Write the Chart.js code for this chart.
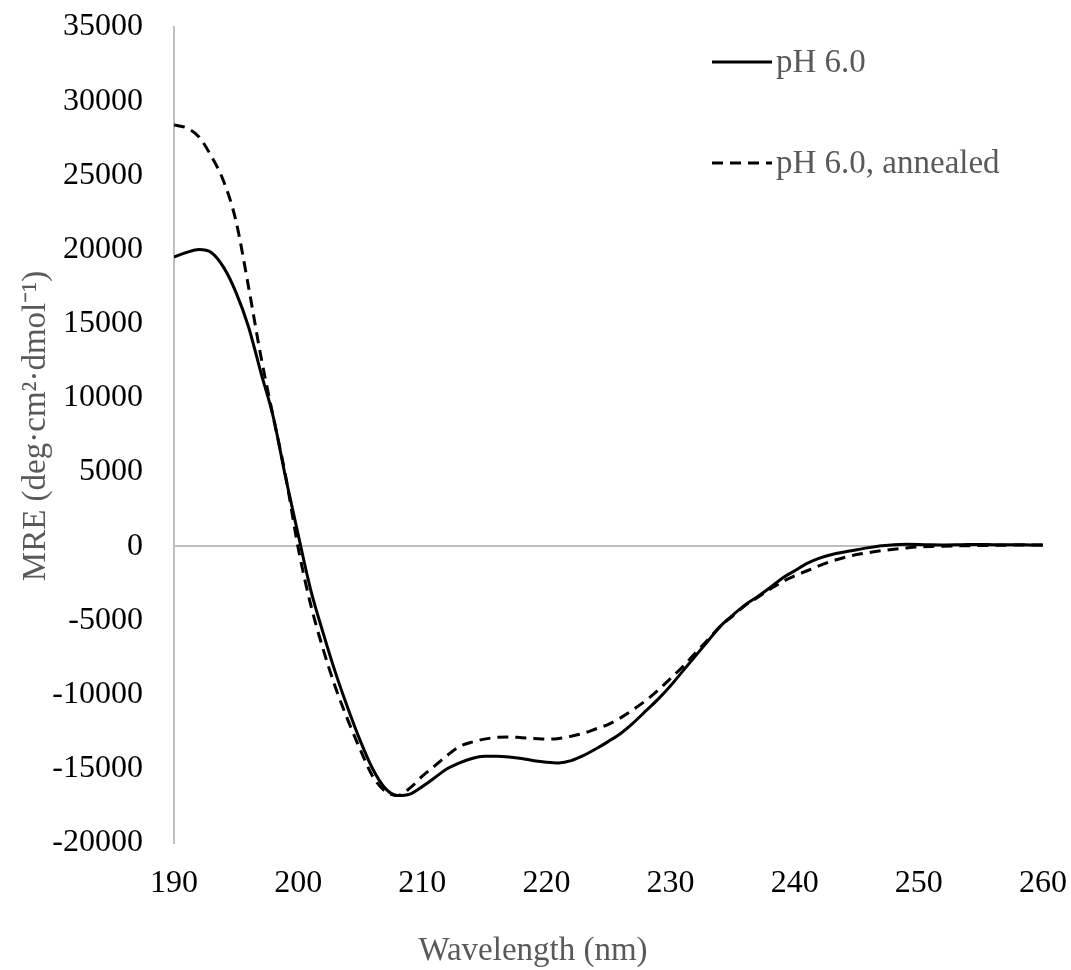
<!DOCTYPE html>
<html>
<head>
<meta charset="utf-8">
<script src="https://cdn.jsdelivr.net/npm/chart.js@4/dist/chart.umd.min.js"></script>
<style>
	html, body { margin: 0; padding: 0; background: #fff; }
	#wrap { width: 1071px; height: 970px; }
</style>
</head>
<body>
<div id="wrap"><canvas id="chart_cd" width="1071" height="970"></canvas></div>
<script>
var wavelengths = [190, 191, 192, 193, 194, 195, 196, 197, 198, 199,
	200, 201, 202, 203, 204, 205, 206, 207, 208, 209,
	210, 211, 212, 213, 214, 215, 216, 217, 218, 219,
	220, 221, 222, 223, 224, 225, 226, 227, 228, 229,
	230, 231, 232, 233, 234, 235, 236, 237, 238, 239,
	240, 241, 242, 243, 244, 245, 246, 247, 248, 249,
	250, 251, 252, 253, 254, 255, 256, 257, 258, 259, 260];

var mre_ph6 = [19500, 19800, 20000, 19800, 18800, 17100, 14800, 11700, 8700, 4600,
	800, -2900, -5800, -8500, -10900, -13100, -15000, -16300, -16800, -16700,
	-16200, -15600, -15000, -14600, -14300, -14150, -14150, -14200, -14300, -14450,
	-14550, -14600, -14450, -14100, -13650, -13150, -12600, -11900, -11100, -10300,
	-9400, -8400, -7400, -6400, -5400, -4650, -3950, -3400, -2800, -2150,
	-1650, -1150, -800, -550, -380, -230, -90, 30, 110, 130,
	120, 100, 90, 100, 120, 120, 110, 110, 100, 90, 80];

var mre_ph6_annealed = [28400, 28200, 27600, 26300, 24600, 21900, 17500, 12800, 8700, 4700,
	-100, -3900, -6900, -9500, -11700, -13700, -15500, -16500, -16800, -16300,
	-15500, -14800, -14100, -13500, -13200, -13000, -12880, -12850, -12900, -12950,
	-13000, -12950, -12800, -12600, -12300, -12000, -11550, -11000, -10400, -9700,
	-8900, -8100, -7200, -6300, -5400, -4700, -4000, -3450, -2900, -2400,
	-2000, -1650, -1300, -1000, -760, -560, -420, -300, -200, -110,
	-40, -10, 0, 20, 40, 50, 60, 70, 80, 80, 80];

var xTicks = [190, 200, 210, 220, 230, 240, 250, 260];

var xTitle = 'Wavelength (nm)';
var yTitle = 'MRE (deg·cm²·dmol⁻¹)';

function toPoints(xs, ys){
	var pts = [];
	for(var i = 0; i < xs.length; i++){
		pts.push({x: xs[i], y: ys[i]});
	}
	return pts;
}

var serif = "'Liberation Serif', 'Times New Roman', serif";

// keep the plot box where the original has it
function noOverflow(axis){
	axis.paddingTop = 0;
	axis.paddingBottom = 0;
	axis.paddingLeft = 0;
	axis.paddingRight = 0;
}

// legend (two stacked rows, upper right) and the axis titles, placed like the original
var extras = {
	id: 'extras',
	afterDraw: function(chart){
		var ctx = chart.ctx;
		var rows = [62, 163];
		ctx.save();
		ctx.font = '33px ' + serif;
		ctx.textBaseline = 'middle';
		ctx.textAlign = 'left';
		chart.data.datasets.forEach(function(ds, i){
			var y = rows[i];
			ctx.beginPath();
			ctx.lineWidth = ds.borderWidth;
			ctx.strokeStyle = ds.borderColor;
			ctx.setLineDash(ds.borderDash || []);
			ctx.moveTo(712, y);
			ctx.lineTo(772, y);
			ctx.stroke();
			ctx.setLineDash([]);
			ctx.fillStyle = '#595959';
			ctx.fillText(ds.label, 776, y + 1);
		});

		ctx.textAlign = 'center';
		ctx.textBaseline = 'alphabetic';
		ctx.fillText(xTitle, 533, 960);

		ctx.translate(45, 426);
		ctx.rotate(-Math.PI / 2);
		ctx.fillText(yTitle, 0, 0);
		ctx.restore();
	}
};

var ctx_cd = document.getElementById("chart_cd").getContext('2d');

var chart_cd = new Chart(ctx_cd, {
	type: 'line',
	data: {
		datasets: [
		{
			label: 'pH 6.0',
			borderColor: '#000000',
			borderWidth: 3,
			data: toPoints(wavelengths, mre_ph6),
			fill: false,
			pointRadius: 0,
			cubicInterpolationMode: 'monotone',
		},
		{
			label: 'pH 6.0, annealed',
			borderColor: '#000000',
			borderWidth: 3,
			borderDash: [11, 7],
			data: toPoints(wavelengths, mre_ph6_annealed),
			fill: false,
			pointRadius: 0,
			cubicInterpolationMode: 'monotone',
		}]
	},
	options: {
		responsive: false,
		animation: false,
		layout: { padding: { top: 27, right: 28, bottom: 0, left: 0 } },
		plugins: {
			legend: { display: false },
			tooltip: { enabled: false }
		},
		scales: {
			x: {
				type: 'linear',
				min: 190,
				max: 260,
				afterBuildTicks: function(axis){
					axis.ticks = xTicks.map(function(v){ return {value: v}; });
				},
				afterFit: function(axis){ axis.height = 127; noOverflow(axis); },
				grid: { display: false, drawTicks: false },
				border: { display: false },
				ticks: {
					color: '#000000',
					padding: 21,
					maxRotation: 0,
					callback: function(v){ return String(v); },
					font: { family: serif, size: 32 }
				}
			},
			y: {
				min: -20000,
				max: 35000,
				afterFit: function(axis){ axis.width = 174; noOverflow(axis); },
				ticks: {
					stepSize: 5000,
					color: '#000000',
					padding: 31,
					callback: function(v){ return String(v); },
					font: { family: serif, size: 32 }
				},
				grid: {
					drawTicks: false,
					lineWidth: 2,
					color: function(c){
						return c.tick && c.tick.value === 0 ? '#bfbfbf' : 'rgba(0,0,0,0)';
					}
				},
				border: { display: true, color: '#bfbfbf', width: 2 }
			}
		}
	},
	plugins: [extras]
});
</script>
</body>
</html>
